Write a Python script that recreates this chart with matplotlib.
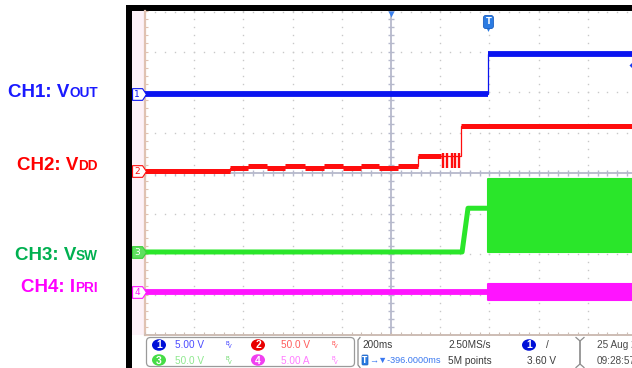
import numpy as np
import matplotlib
matplotlib.use("Agg")
import matplotlib.pyplot as plt
from matplotlib.patches import Rectangle, Ellipse, FancyBboxPatch
from matplotlib.path import Path
from matplotlib.transforms import offset_copy
from matplotlib.markers import TICKRIGHT, TICKUP

# ---------------- acquisition settings ----------------
T_DIV = 200.0          # ms per division
H_POS = -396.0         # time at screen centre, ms (trigger at t = 0)
ch_names = ["CH1: V", "CH2: V", "CH3: V", "CH4: I"]
ch_subs = ["OUT", "DD", "SW", "PRI"]
ch_scale = [5.0, 50.0, 50.0, 5.0]          # units per division
ch_offset = [1.95, 0.05, -1.95, -2.93]     # trace zero position, divisions
ch_scale_txt = ["5.00 V", "50.0 V", "50.0 V", "5.00 A"]
trig_level = 3.60                          # V on CH1, rising edge

# ---------------- waveforms ----------------
# CH1: output voltage (V)
vout_edges = [-1396.0, 0.0, 604.0]
vout_levels = [0.0, 5.0]

# CH2: controller supply VDD (V)
vdd_edges = [-1396, -1050, -977, -900, -827, -746, -668, -591, -518,
             -445, -368, -286, -193, -111, 604]
vdd_levels = [0.0, 3.7, 6.5, 3.7, 6.5, 3.7, 6.5, 3.7, 6.5, 3.7, 6.5,
              19.0, np.nan, 55.0]
vdd_pulse_t = [-183, -167, -150, -134, -118]   # hiccup pulses before start-up
vdd_pulse_lo = 6.5
vdd_pulse_hi = 19.0

# CH3: switch node voltage (V)
vsw_t = [-1396, -107, -83, 0]
vsw_v = [0.0, 0.0, 54.0, 54.0]
sw_t = [0, 604]
sw_max = [90.0, 90.0]
sw_min = [0.0, 0.0]

# CH4: primary current (A)
ipri_t = [-1396, 0]
ipri_v = [0.0, 0.0]
ipri_band_t = [0, 604]
ipri_max = [1.0, 1.0]
ipri_min = [-1.0, -1.0]

TRACE = ["#0a14f0", "#ff0d0d", "#2ae62a", "#ff14ff"]
LABEL = ["#1a1aff", "#ff0000", "#00b050", "#ff00ff"]


def to_div(ch, v):
    return ch_offset[ch] + np.asarray(v, dtype=float) / ch_scale[ch]


W, H = 632, 368
fig = plt.figure(figsize=(W / 100, H / 100), dpi=100)
fig.patch.set_facecolor("white")

# overlay in pixel units for the instrument frame and readouts
ov = fig.add_axes([0, 0, 1, 1])
ov.set_xlim(0, W)
ov.set_ylim(H, 0)
ov.axis("off")

ov.add_patch(Rectangle((126, 5), 6, H - 5, color="black", lw=0))
ov.add_patch(Rectangle((126, 5), W - 126, 6, color="black", lw=0))
ov.add_patch(Rectangle((132, 11), 13, 324, color="#fdf2f8", lw=0))

# scope graticule axes (10 x 8 divisions, right part runs off the screen)
gx0, gx1, gy0, gy1 = 145, 637, 11, 335
ax = fig.add_axes([gx0 / W, (H - gy1) / H, (gx1 - gx0) / W, (gy1 - gy0) / H])
left, right = H_POS - 5 * T_DIV, H_POS + 5 * T_DIV
ax.set_xlim(left, right)
ax.set_ylim(-4, 4)
ax.axis("off")

grid_c = "#c8c8c8"
ys_minor = np.linspace(-4, 4, 41)
xs_minor = np.linspace(left, right, 51)
for k in range(1, 10):
    if k == 5:
        continue
    x = left + k * T_DIV
    ax.plot(np.full_like(ys_minor, x), ys_minor, ls="none", marker="s", ms=1.0,
            mec="none", color=grid_c, zorder=1)
for j in range(-3, 5):
    if j == 0:
        continue
    ax.plot(xs_minor, np.full_like(xs_minor, j - 0.03 if j == 4 else j), ls="none",
            marker="s", ms=1.0, mec="none", color=grid_c, zorder=1)

axis_c = "#b6b9cc"
ax.axvline(H_POS, color=axis_c, lw=1.3, zorder=1)
ax.axhline(0, color=axis_c, lw=1.3, zorder=1)
ax.plot(np.full_like(ys_minor, H_POS), ys_minor, ls="none", marker="_", ms=4.5,
        mew=1.0, color=axis_c, zorder=1)
ax.plot(xs_minor, np.zeros_like(xs_minor), ls="none", marker="|", ms=4.5,
        mew=1.0, color=axis_c, zorder=1)

edge_c = "#e0c2b2"
ax.axvline(left, color=edge_c, lw=1.6, zorder=1, clip_on=False)
ax.axhline(-4, color="#cdbdb4", lw=1.4, zorder=1, clip_on=False)
ax.plot(np.full_like(ys_minor, left), ys_minor, ls="none", marker=TICKRIGHT,
        ms=2.5, mew=0.8, color=edge_c, zorder=1, clip_on=False)
ax.plot(xs_minor, np.full_like(xs_minor, -4), ls="none", marker=TICKUP,
        ms=2.5, mew=0.8, color="#cdbdb4", zorder=1, clip_on=False)

TH = 4.2   # trace thickness
TN = 0.9   # transition thickness

# CH1
lv = to_div(0, vout_levels)
ax.stairs(lv, vout_edges, baseline=None, color=TRACE[0], lw=TN, zorder=5)
ax.hlines(lv, vout_edges[:-1], vout_edges[1:], color=TRACE[0], lw=TH, zorder=5)

# CH2
lv = to_div(1, vdd_levels)
thin = to_div(1, np.where(np.isnan(vdd_levels), vdd_pulse_hi, vdd_levels))
ax.stairs(thin, vdd_edges, baseline=None, color=TRACE[1], lw=TN, zorder=4)
keep = ~np.isnan(lv)
ax.hlines(lv[keep], np.array(vdd_edges[:-1])[keep], np.array(vdd_edges[1:])[keep],
          color=TRACE[1], lw=3.6, zorder=4)
ax.vlines(vdd_pulse_t, to_div(1, vdd_pulse_lo) - 0.06, to_div(1, vdd_pulse_hi) + 0.06,
          color=TRACE[1], lw=1.7, zorder=4)

# CH3
ax.plot(vsw_t, to_div(2, vsw_v), color=TRACE[2], lw=3.6, solid_capstyle="butt",
        zorder=3)
ax.fill_between(sw_t, to_div(2, sw_min), to_div(2, sw_max), color=TRACE[2],
                lw=1.5, ec=TRACE[2], zorder=3)

# CH4
ax.plot(ipri_t, to_div(3, ipri_v), color=TRACE[3], lw=TH, solid_capstyle="butt",
        zorder=3)
ax.fill_between(ipri_band_t, to_div(3, ipri_min), to_div(3, ipri_max),
                color=TRACE[3], lw=1.5, ec=TRACE[3], zorder=3)

# channel tags on the left edge
tag = Path([(-0.5, -0.42), (0.22, -0.42), (0.5, 0.0), (0.22, 0.42), (-0.5, 0.42),
            (-0.5, -0.42)], [1, 2, 2, 2, 2, 79])
tag_style = [("white", TRACE[0], TRACE[0]), ("white", TRACE[1], TRACE[1]),
             ("#5fe05f", "#3ccf3c", "white"), ("white", TRACE[3], TRACE[3])]
tag_tr = offset_copy(ax.transData, fig=fig, x=-6.5, y=0, units="dots")
for ch in range(4):
    fc, ec, tc = tag_style[ch]
    ax.plot(left, ch_offset[ch], marker=tag, ms=10, mfc=fc, mec=ec, mew=0.8,
            transform=tag_tr, clip_on=False, zorder=6)
    ax.annotate(str(ch + 1), xy=(left, ch_offset[ch]), xytext=(-8, -0.5),
                textcoords="offset pixels", ha="center", va="center",
                fontsize=6.5, color=tc, family="DejaVu Sans", zorder=7,
                annotation_clip=False)

# trigger markers
ax.plot(H_POS, 4, marker="v", ms=5, color="#3c82ee", mec="none", clip_on=False,
        transform=offset_copy(ax.transData, fig=fig, y=-3, units="dots"), zorder=6)
ax.annotate("T", xy=(0, 4), xytext=(0, -11), textcoords="offset pixels",
            ha="center", va="center", color="white", fontsize=6, fontweight="bold",
            family="DejaVu Sans", annotation_clip=False, zorder=7,
            bbox=dict(boxstyle="round,pad=0.25,rounding_size=0.3", fc="#2b7be2",
                      ec="#1d5fbf", lw=0.6))
ax.plot(0, 4, marker="v", ms=3.5, color="#2b7be2", mec="none", clip_on=False,
        transform=offset_copy(ax.transData, fig=fig, y=-18, units="dots"), zorder=6)
ax.plot(right, to_div(0, trig_level), marker="D", ms=5, color="#1c3cf0",
        mec="none", clip_on=False,
        transform=offset_copy(ax.transData, fig=fig, x=-3, units="dots"), zorder=6)

# channel name labels
fig.canvas.draw()
rend = fig.canvas.get_renderer()
lab_y = [97, 170, 260, 292]
for ch in range(4):
    s = ov.text(98, lab_y[ch], ch_subs[ch], ha="right", va="baseline",
                fontsize=9.8, fontweight="bold", color=LABEL[ch],
                family="Liberation Sans")
    w = s.get_window_extent(rend).width
    ov.text(98 - w, lab_y[ch], ch_names[ch], ha="right", va="baseline",
            fontsize=13.5, fontweight="bold", color=LABEL[ch],
            family="Liberation Sans")

# ---------------- readout bar ----------------
SF = ["Liberation Sans", "DejaVu Sans"]
FS = 7.2
ov.add_patch(FancyBboxPatch((146.5, 337.5), 208, 29,
                            boxstyle="round,pad=0,rounding_size=4",
                            fc="white", ec="#9a9a9a", lw=0.9))
badge_c = ["#0010d8", "#e80000", "#46dc46", "#f040f0"]
val_c = ["#4a4aff", "#ff5a5a", "#8ee88e", "#ff7cff"]
bw_c = ["#3a3aff", "#ff4a4a", "#66d866", "#ff66ff"]
pos = [(159, 345, 175), (159, 360, 175), (258, 345, 281), (258, 360, 281)]
order = [0, 2, 1, 3]
for (cx, cy, tx), ch in zip(pos, order):
    ov.add_patch(Ellipse((cx, cy), 14, 11.5, color=badge_c[ch], lw=0))
    ov.text(cx, cy + 0.5, str(ch + 1), ha="center", va="center", color="white",
            fontsize=7.5, fontweight="bold", family=SF)
    ov.text(tx, cy + 0.5, ch_scale_txt[ch], ha="left", va="center", color=val_c[ch],
            fontsize=FS, family=SF)
    ov.text(tx + 52, cy - 1.5, "B", ha="center", va="center", color=bw_c[ch],
            fontsize=4, family=SF)
    ov.text(tx + 54.5, cy + 2, "V", ha="center", va="center", color=bw_c[ch],
            fontsize=4, family=SF)

gray = "#8c8c8c"
ov.plot([360, 358, 358, 360], [337.5, 340, 365, 367.5], color=gray, lw=0.9)
ov.plot([576, 580, 580, 576], [337.5, 341, 364, 367.5], color=gray, lw=0.9)
ov.plot([584, 580, 580, 584], [337.5, 341, 364, 367.5], color=gray, lw=0.9)

txt_c = "#3c3c3c"
ov.text(362, 345.5, "200ms", ha="left", va="center", color=txt_c, fontsize=FS, family=SF)
ov.text(448, 345.5, "2.50MS/s", ha="left", va="center", color=txt_c, fontsize=FS, family=SF)
ov.text(448, 360.5, "5M points", ha="left", va="center", color=txt_c, fontsize=FS, family=SF)
ov.add_patch(Ellipse((529, 345), 14, 11.5, color=badge_c[0], lw=0))
ov.text(529, 345.5, "1", ha="center", va="center", color="white", fontsize=7.5,
        fontweight="bold", family=SF)
ov.text(546, 345.5, "/", ha="left", va="center", color=txt_c, fontsize=FS, family=SF)
ov.text(527, 360.5, f"{trig_level:.2f} V", ha="left", va="center", color=txt_c,
        fontsize=FS, family=SF)
ov.add_patch(FancyBboxPatch((362, 355), 6, 10, boxstyle="round,pad=0,rounding_size=1",
                            fc="#2b7be2", ec="#1d5fbf", lw=0.5))
ov.text(365, 360.3, "T", ha="center", va="center", color="white", fontsize=5.5,
        fontweight="bold", family="DejaVu Sans")
ov.text(369, 360.5, f"\u2192\u25bc{H_POS:.4f}ms", ha="left", va="center",
        color="#3a78f0", fontsize=6.6, family=SF)
ov.text(597, 345.5, "25 Aug 2015", ha="left", va="center", color="#4a4a4a",
        fontsize=FS, family=SF)
ov.text(597, 360.5, "09:28:57", ha="left", va="center", color="#4a4a4a",
        fontsize=FS, family=SF)

fig.savefig("out.png", dpi=100, facecolor="white")
